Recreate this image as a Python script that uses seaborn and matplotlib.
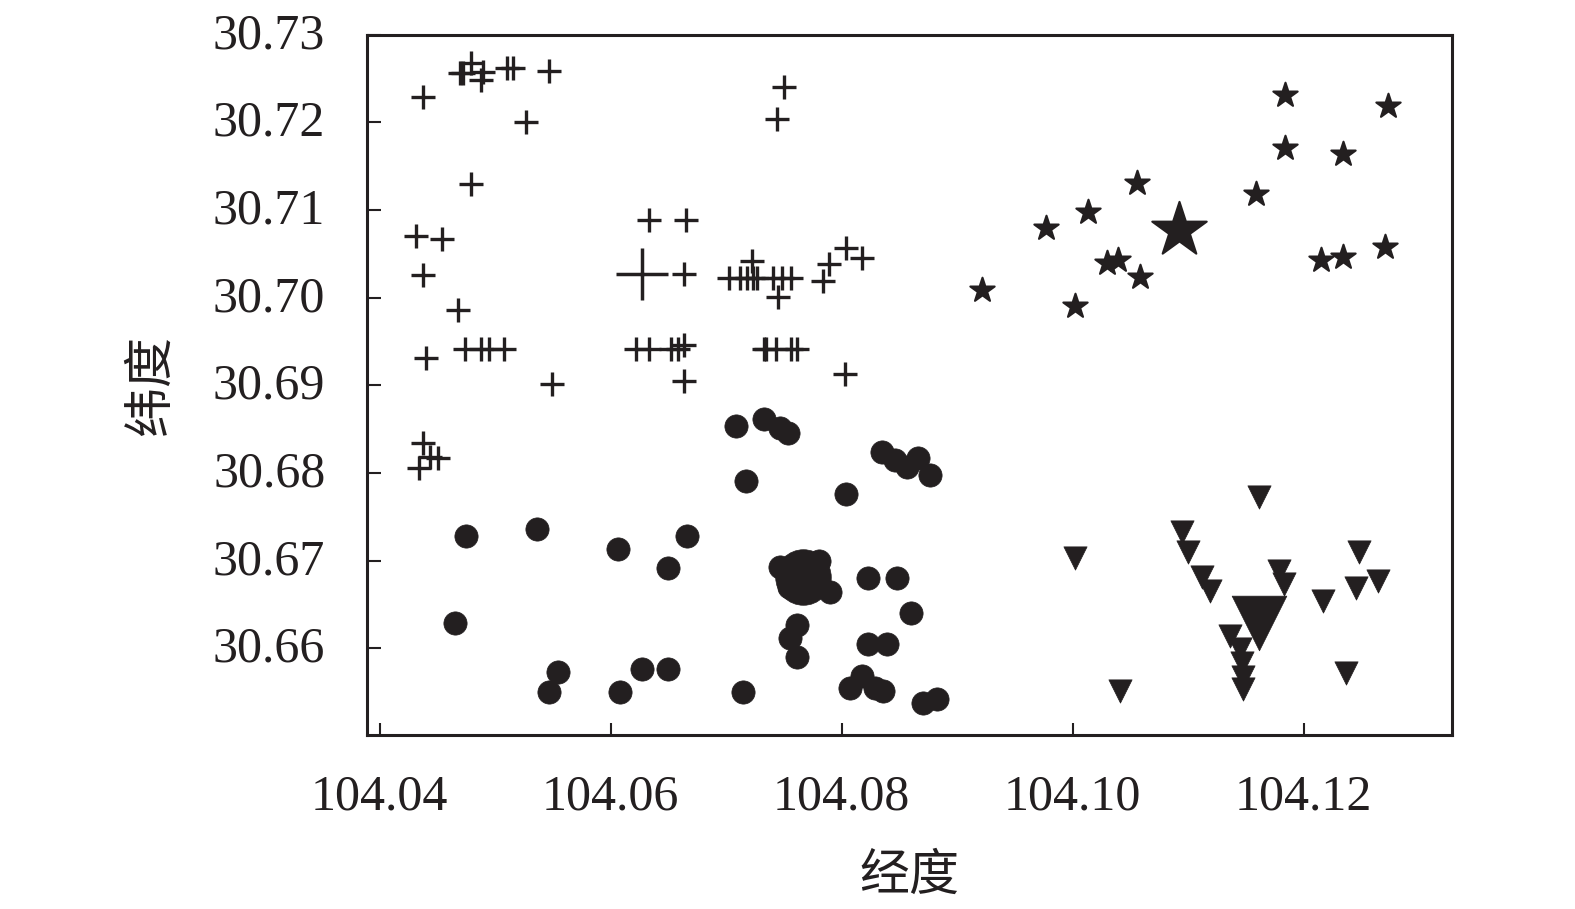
import numpy as np
import pandas as pd
import seaborn as sns
import matplotlib
matplotlib.use('Agg')
import matplotlib.pyplot as plt
from matplotlib.transforms import ScaledTranslation

# cluster 1 (plus markers)
plus_lon = [104.04372, 104.04790, 104.04721, 104.04695, 104.04894, 104.04877, 104.05102, 104.05154,
            104.05466, 104.05267, 104.04790, 104.04314, 104.04539, 104.04375, 104.04678, 104.04401,
            104.04739, 104.04877, 104.04946, 104.05076, 104.05492, 104.04375, 104.04435, 104.04505,
            104.04340, 104.06332, 104.06652, 104.06635, 104.07024, 104.07119, 104.07180, 104.07232,
            104.07266, 104.07405, 104.07483, 104.07561, 104.07223, 104.07448, 104.08037, 104.07890,
            104.08176, 104.07838, 104.06219, 104.06332, 104.06522, 104.06583, 104.06635, 104.06635,
            104.07331, 104.07348, 104.07435, 104.07561, 104.07613, 104.08032, 104.07500, 104.07439]
plus_lat = [30.72290, 30.72675, 30.72560, 30.72560, 30.72572, 30.72481, 30.72618, 30.72618,
            30.72583, 30.72001, 30.71293, 30.70700, 30.70666, 30.70255, 30.69855, 30.69307,
            30.69410, 30.69410, 30.69410, 30.69410, 30.69010, 30.68337, 30.68177, 30.68166,
            30.68051, 30.70882, 30.70882, 30.70266, 30.70224, 30.70224, 30.70224, 30.70224,
            30.70224, 30.70224, 30.70224, 30.70224, 30.70414, 30.70003, 30.70563, 30.70381,
            30.70449, 30.70186, 30.69413, 30.69413, 30.69413, 30.69413, 30.69460, 30.69044,
            30.69413, 30.69413, 30.69413, 30.69413, 30.69413, 30.69124, 30.72401, 30.72035]

# cluster 2 (circles)
circ_lon = [104.04743, 104.05358, 104.06059, 104.06661, 104.06496, 104.04652, 104.05544, 104.05466,
            104.06081, 104.06271, 104.06496, 104.07085, 104.07327, 104.07466, 104.07535, 104.07172,
            104.08037, 104.08349, 104.08461, 104.08565, 104.08660, 104.08764, 104.07466, 104.07899,
            104.08228, 104.08479, 104.08600, 104.07613, 104.07553, 104.07613, 104.08228, 104.08392,
            104.07146, 104.08072, 104.08176, 104.08288, 104.08358, 104.08704, 104.08825, 104.07800,
            104.07540]
circ_lat = [30.67275, 30.67356, 30.67127, 30.67275, 30.66910, 30.66282, 30.65723, 30.65506,
            30.65506, 30.65768, 30.65768, 30.68531, 30.68611, 30.68508, 30.68451, 30.67903,
            30.67755, 30.68234, 30.68143, 30.68063, 30.68166, 30.67971, 30.66922, 30.66636,
            30.66796, 30.66796, 30.66396, 30.66259, 30.66111, 30.65905, 30.66053, 30.66053,
            30.65506, 30.65551, 30.65688, 30.65551, 30.65517, 30.65380, 30.65426, 30.67000,
            30.66700]

# cluster 3 (stars)
star_lon = [104.09215, 104.10020, 104.09769, 104.10133, 104.10557, 104.10300, 104.10390, 104.10583,
            104.11587, 104.11838, 104.11838, 104.12340, 104.12730, 104.12150, 104.12340, 104.12704]
star_lat = [30.70083, 30.69901, 30.70791, 30.70974, 30.71305, 30.70390, 30.70430, 30.70232,
            30.71179, 30.72309, 30.71705, 30.71636, 30.72184, 30.70425, 30.70460, 30.70574]

# cluster 4 (down triangles)
tri_lon = [104.11613, 104.10946, 104.10998, 104.11120, 104.11189, 104.10020, 104.10409, 104.11786,
           104.11829, 104.12167, 104.12478, 104.12452, 104.12643, 104.12366, 104.11362, 104.11448,
           104.11466, 104.11475, 104.11475]
tri_lat = [30.67720, 30.67321, 30.67092, 30.66807, 30.66658, 30.67024, 30.65517, 30.66886,
           30.66738, 30.66544, 30.67092, 30.66692, 30.66772, 30.65722, 30.66142, 30.65994,
           30.65834, 30.65674, 30.65537]

# cluster centres
center_lon = [104.06271, 104.07665, 104.10920, 104.11613]
center_lat = [30.70266, 30.66807, 30.70768, 30.66282]

x_ticks = [104.04, 104.06, 104.08, 104.10, 104.12]
y_ticks = [30.66, 30.67, 30.68, 30.69, 30.70, 30.71, 30.72, 30.73]

ink = '#231f20'

sns.set_theme(style="white")
plt.rcParams['font.family'] = ['Liberation Serif', 'Noto Sans CJK SC']

fig = plt.figure(figsize=(15.75, 9.09), dpi=100)
ax = fig.add_axes([367 / 1575, 1 - 735 / 909, (1451.5 - 367) / 1575, (735 - 34.5) / 909])

sns.scatterplot(x=plus_lon, y=plus_lat, marker='+', s=280, color=ink, linewidth=2.4, ax=ax)
sns.scatterplot(x=circ_lon, y=circ_lat, marker='o', s=280, color=ink, edgecolor=ink, linewidth=0.5, ax=ax)
sns.scatterplot(x=star_lon, y=star_lat, marker='*', s=340, color=ink, edgecolor=ink, linewidth=1.5, ax=ax)
sns.scatterplot(x=tri_lon, y=tri_lat, marker='v', s=280, color=ink, edgecolor=ink, linewidth=0.5, ax=ax)

sns.scatterplot(x=center_lon[:1], y=center_lat[:1], marker='+', s=1450, color=ink, linewidth=2.5, ax=ax)
sns.scatterplot(x=center_lon[1:2], y=center_lat[1:2], marker='o', s=1600, color=ink, edgecolor=ink, linewidth=0.5, ax=ax)
sns.scatterplot(x=center_lon[2:3], y=center_lat[2:3], marker='*', s=1700, color=ink, edgecolor=ink, linewidth=1.5, ax=ax)
sns.scatterplot(x=center_lon[3:], y=center_lat[3:], marker='v', s=1550, color=ink, edgecolor=ink, linewidth=0.5, ax=ax)

ax.set_xlim(104.0389, 104.1328)
ax.set_ylim(30.6501, 30.7300)
ax.set_xticks(x_ticks)
ax.set_xticklabels([f'{v:.2f}' for v in x_ticks])
ax.set_yticks(y_ticks)
ax.set_yticklabels([f'{v:.2f}' for v in y_ticks])

ax.tick_params(axis='both', direction='in', width=1.5, labelsize=36, colors=ink)
ax.tick_params(axis='x', length=9, pad=28, bottom=True, top=False)
ax.tick_params(axis='y', length=10, pad=30, left=True, right=False)
for sp in ax.spines.values():
    sp.set_color(ink)
    sp.set_linewidth(2.2)

# nudge y tick labels up a little, as in the source figure
shift = ScaledTranslation(0, 3 / 72, fig.dpi_scale_trans)
for lab in ax.get_yticklabels():
    lab.set_transform(lab.get_transform() + shift)

fig.text(909 / 1575, 1 - 876 / 909, '经度', fontsize=36, color=ink,
         family=['Noto Sans CJK SC'], ha='center', va='center')
fig.text(151 / 1575, 1 - 385 / 909, '纬度', fontsize=36, color=ink, rotation=90,
         family=['Noto Sans CJK SC'], ha='center', va='center')

fig.savefig('out.png', dpi=100)
